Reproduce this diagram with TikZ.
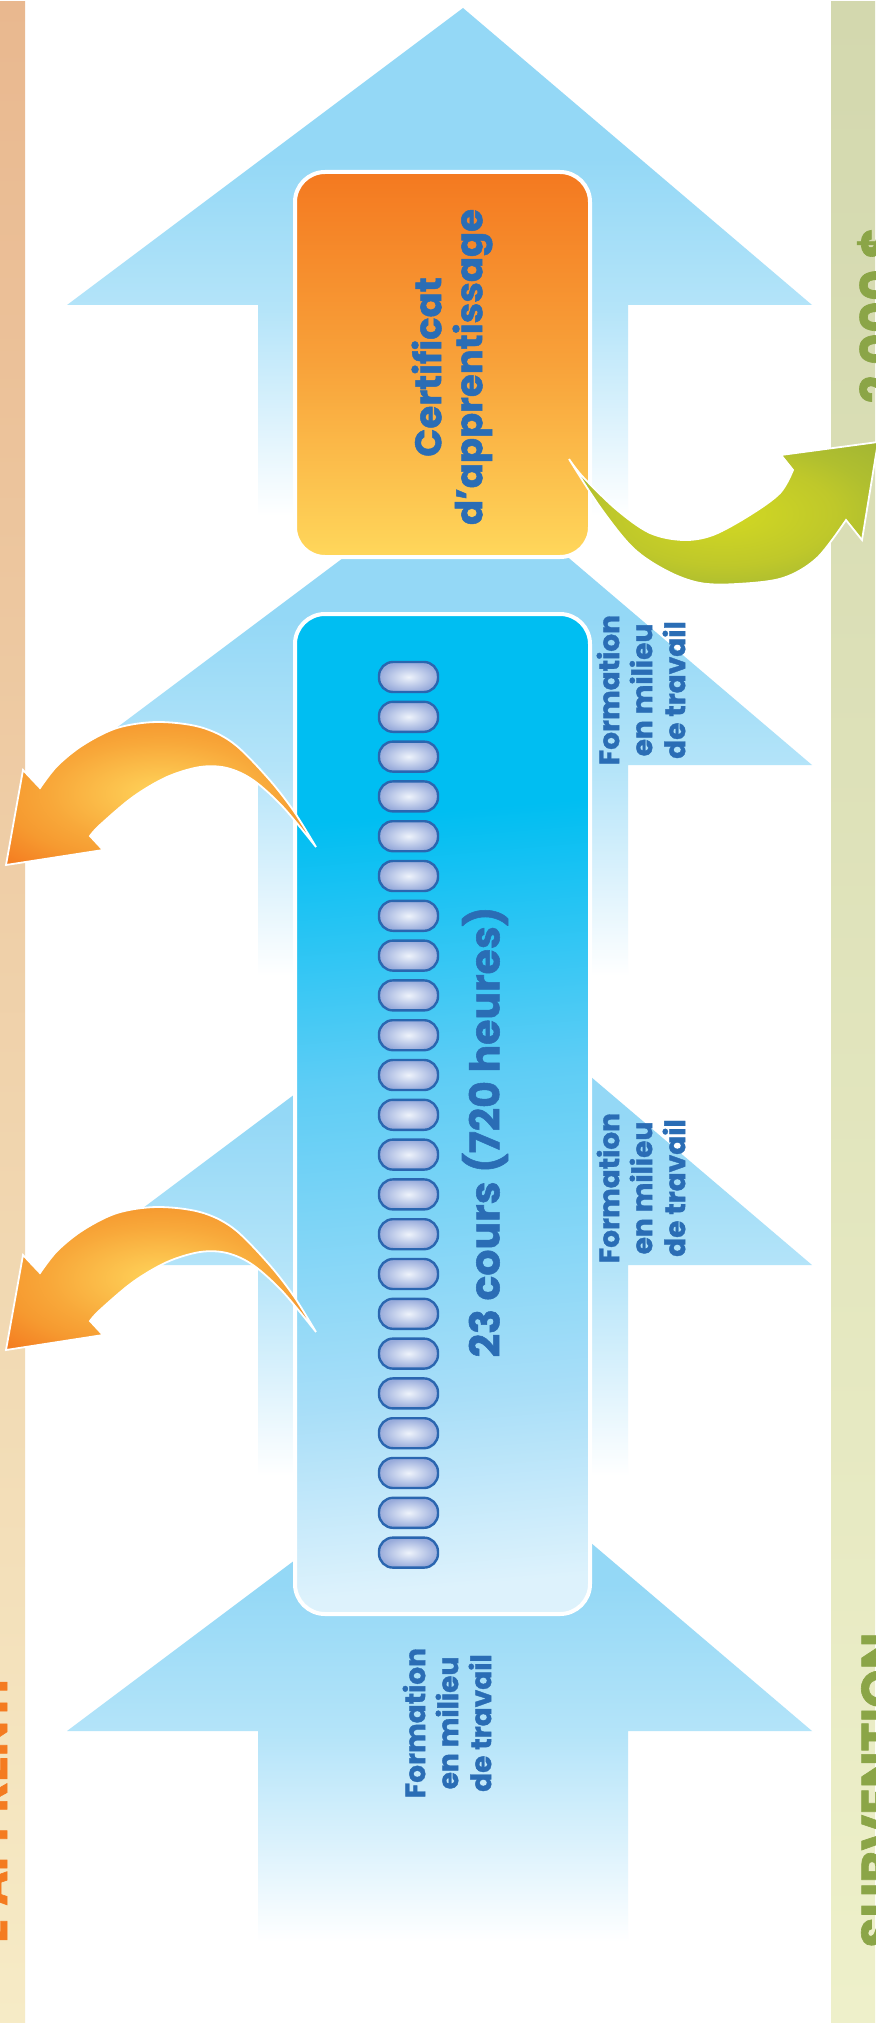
\documentclass[tikz,border=0pt]{standalone}
\usepackage{fontspec}
\setmainfont{Poppins}[BoldFeatures={FakeBold=1.3}]
\definecolor{tblue}{HTML}{2A6DB5}
\definecolor{lbarTop}{HTML}{E9B88F}
\definecolor{lbarBot}{HTML}{F6EBC6}
\definecolor{rbarTop}{HTML}{D3D8AE}
\definecolor{rbarBot}{HTML}{EEF0CA}
\definecolor{lText}{HTML}{F47B20}
\definecolor{rText}{HTML}{8BA547}
\definecolor{ablue1}{HTML}{94D8F6}
\definecolor{ablue2}{HTML}{B4E4F9}
\definecolor{ablue3}{HTML}{D9F1FC}
\definecolor{bxC}{HTML}{00BEF2}
\definecolor{bx2}{HTML}{5ECDF5}
\definecolor{bx3}{HTML}{A8DEF8}
\definecolor{bxL}{HTML}{DDF2FC}
\definecolor{certTop}{HTML}{F47920}
\definecolor{certMid}{HTML}{F8A23A}
\definecolor{certBot}{HTML}{FFD75B}
\definecolor{pillIn}{HTML}{EEF3FB}
\definecolor{pillOut}{HTML}{98ABDB}
\definecolor{pillLine}{HTML}{2A66B0}
\definecolor{oraIn}{HTML}{FFD55B}
\definecolor{oraMid}{HTML}{F8A83A}
\definecolor{oraEdge}{HTML}{F69A30}
\definecolor{oraOut}{HTML}{F47B20}
\definecolor{grnIn}{HTML}{D3D922}
\definecolor{grnMid}{HTML}{BFC82A}
\definecolor{grnEdge}{HTML}{B0BF2F}
\definecolor{grnOut}{HTML}{A3B633}
\pgfdeclareverticalshading{arrowshade}{100bp}{color(0bp)=(white); color(31bp)=(white); color(40bp)=(ablue3); color(49bp)=(ablue2); color(62bp)=(ablue1); color(100bp)=(ablue1)}
\pgfdeclareverticalshading{boxshade}{100bp}{color(0bp)=(bxL); color(25bp)=(bxL); color(35bp)=(bx3); color(52bp)=(bx2); color(66bp)=(bxC); color(100bp)=(bxC)}
\pgfdeclareradialshading{orashade}{\pgfpoint{0bp}{0bp}}{color(0bp)=(oraIn); color(18bp)=(oraMid); color(25bp)=(oraEdge); color(35bp)=(oraOut); color(50bp)=(oraOut)}
\pgfdeclareradialshading{grnshade}{\pgfpoint{0bp}{0bp}}{color(0bp)=(grnIn); color(18bp)=(grnMid); color(25bp)=(grnEdge); color(35bp)=(grnOut); color(50bp)=(grnOut)}
\tikzset{
  bluearrow/.style={shading=arrowshade},
  certbox/.style={rectangle, rounded corners=30pt, minimum width=295pt, minimum height=385pt, draw=white, line width=4pt, top color=certTop, bottom color=certBot, middle color=certMid},
  coursebox/.style={rectangle, rounded corners=30pt, minimum width=295pt, minimum height=1000pt, draw=white, line width=4pt, shade, shading=boxshade, shading angle=5},
  pill/.style={rectangle, rounded corners=14pt, minimum width=59pt, minimum height=30pt, draw=pillLine, line width=2.4pt, inner color=pillIn, outer color=pillOut},
  lbl/.style={text=tblue, font=\bfseries\fontsize{28pt}{33pt}\selectfont, align=center, rotate=90, inner sep=0pt},
  curvedora/.style={draw=white, line width=1.8pt, shade, shading=orashade},
  curvedgrn/.style={draw=white, line width=1.8pt, shade, shading=grnshade}
}
\begin{document}
\begin{tikzpicture}[x=1pt,y=-1pt]
\useasboundingbox (0,0) rectangle (875,2025);
\fill[white] (0,0) rectangle (875,2025);
% side bars
\shade[top color=lbarTop, bottom color=lbarBot] (0,2) rectangle (25,2022);
\shade[top color=rbarTop, bottom color=rbarBot] (831,2) rectangle (875,2022);
\node[rotate=90, anchor=base, inner sep=0pt, text=lText, font=\bfseries\fontsize{47pt}{47pt}\selectfont] (apprenti) at (7,1811) {L’APPRENTI};
\node[rotate=90, anchor=north, inner sep=0pt, text=rText, font=\bfseries\fontsize{49pt}{49pt}\selectfont] (subv) at (861,1790) {SUBVENTION};
\node[rotate=90, anchor=north, inner sep=0pt, text=rText, font=\bfseries\fontsize{49pt}{49pt}\selectfont] (montant) at (857,315) {2 000 \$};
% big blue arrows
\foreach \t in {8,468,968,1434} {
  \shade[bluearrow] (463,\t) -- (812,\t+297) -- (628,\t+297) -- (628,\t+577) -- (258,\t+577) -- (258,\t+297) -- (67,\t+297) -- cycle;
}
% boxes
\node[certbox] (cert) at (442.5,364.5) {};
\node[coursebox] (courses) at (442.5,1114) {};
\foreach \i in {0,...,22} {
  \node[pill] (pill\i) at (408.5,{677+39.8*\i}) {};
}
% texts
\node[rotate=90, inner sep=0pt, text=tblue, align=center, font=\bfseries\fontsize{37pt}{41pt}\selectfont] (certtxt) at (452,367) {Certificat\\d’apprentissage};
\node[rotate=90, inner sep=0pt, text=tblue, font=\bfseries\fontsize{41pt}{41pt}\selectfont] (coursetxt) at (485,1132) {23 cours (720 heures)};
\node[lbl] (fmt1) at (641,690) {Formation\\en milieu\\de travail};
\node[lbl] (fmt2) at (641,1188) {Formation\\en milieu\\de travail};
\node[lbl] (fmt3) at (447,1723) {Formation\\en milieu\\de travail};
% orange curved arrows
\foreach \s in {0,485} {
  \begin{scope}[shift={(0,\s)}]
  \path[curvedora] plot[smooth, tension=0.55] coordinates {(316,847) (293,810) (267,777) (233,743) (200,727) (157,722) (117,728) (83,745) (57,766) (40,788)}
    -- (23,770) -- (6,865) -- (103,850) -- (90,836)
    -- plot[smooth, tension=0.55] coordinates {(90,836) (100,825) (133,797) (167,777) (200,767) (227,768) (253,780) (283,807) (316,847)} -- cycle;
  \end{scope}
}
% green curved arrow
\path[curvedgrn] plot[smooth, tension=0.55] coordinates {(569,459) (583,477) (617,510) (650,533) (683,540) (713,535) (750,515) (780,493) (793,470)}
  -- (781,455) -- (878,442) -- (862,540) -- (846,520)
  -- plot[smooth, tension=0.55] coordinates {(846,520) (817,558) (783,578) (737,584) (700,583) (667,571) (633,548) (600,507) (569,459)} -- cycle;
\end{tikzpicture}
\end{document}
